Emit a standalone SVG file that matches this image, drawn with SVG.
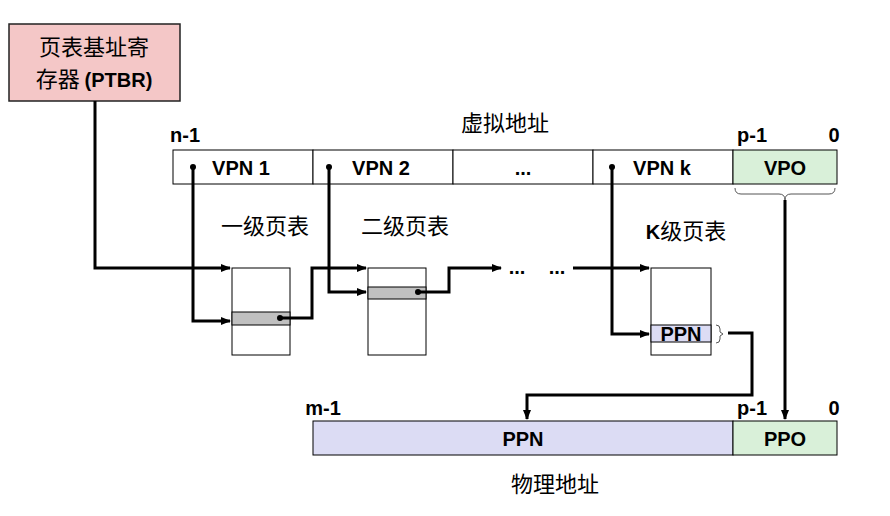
<svg xmlns="http://www.w3.org/2000/svg" width="890" height="516" viewBox="0 0 890 516">
<defs><marker id="a" markerWidth="10" markerHeight="8" refX="9" refY="4" orient="auto" markerUnits="userSpaceOnUse"><path d="M0,0L10,4L0,8z" fill="#000"/></marker></defs>
<style>
.b{font-family:"Liberation Sans",Arial,sans-serif;font-weight:bold;font-size:20px;text-anchor:middle}
.c{font-family:"Noto Sans CJK SC","Liberation Serif",serif;font-size:22px;text-anchor:middle}
.cell{stroke:#000;stroke-width:1}
.w{stroke:#000;stroke-width:3;fill:none}
</style>
<rect width="890" height="516" fill="#fff"/>
<g id="ptbr"><rect x="9" y="24" width="171" height="77" fill="#f4c7c7" stroke="#222" stroke-width="1.5"/>
<text x="94" y="55" class="c">页表基址寄</text><text x="94" y="87" class="c">存器 <tspan font-family="Liberation Sans" font-weight="bold" font-size="20">(PTBR)</tspan></text></g>
<g id="va">
<text x="505" y="131" class="c">虚拟地址</text>
<text x="185" y="142" class="b">n-1</text><text x="752" y="142" class="b">p-1</text><text x="834" y="142" class="b">0</text>
<rect x="173" y="150" width="140" height="34" fill="#fff" class="cell"/>
<rect x="313" y="150" width="140" height="34" fill="#fff" class="cell"/>
<rect x="453" y="150" width="140" height="34" fill="#fff" class="cell"/>
<rect x="593" y="150" width="140" height="34" fill="#fff" class="cell"/>
<rect x="733" y="150" width="104" height="34" fill="#d9f0d9" class="cell"/>
<text x="241" y="175" class="b">VPN 1</text><text x="381" y="175" class="b">VPN 2</text><text x="523" y="175" class="b">...</text><text x="662" y="175" class="b">VPN k</text><text x="785" y="175" class="b">VPO</text>
</g>
<g id="t1"><text x="265" y="234" class="c">一级页表</text><rect x="232" y="268" width="58" height="87" fill="#fff" class="cell"/><rect x="232" y="312" width="58" height="13" fill="#c0c0c0" class="cell"/></g>
<g id="t2"><text x="405" y="234" class="c">二级页表</text><rect x="368" y="268" width="58" height="87" fill="#fff" class="cell"/><rect x="368" y="287" width="58" height="12" fill="#c0c0c0" class="cell"/></g>
<g id="tk"><text x="686" y="239" class="c"><tspan font-family="Liberation Sans" font-weight="bold" font-size="20">K</tspan>级页表</text><rect x="651" y="268" width="60" height="87" fill="#fff" class="cell"/><rect x="651" y="325" width="60" height="17" fill="#dcdcf4" class="cell"/><text x="681" y="341" class="b">PPN</text>
<path d="M716,325 q4,0 4,4 v3 l3,2 l-3,2 v3 q0,4 -4,4" fill="none" stroke="#555"/></g>
<g id="pa">
<text x="323" y="415" class="b">m-1</text><text x="752" y="415" class="b">p-1</text><text x="834" y="415" class="b">0</text>
<rect x="313" y="421" width="420" height="34" fill="#dcdcf4" class="cell"/>
<rect x="733" y="421" width="104" height="34" fill="#d9f0d9" class="cell"/>
<text x="523" y="446" class="b">PPN</text><text x="785" y="446" class="b">PPO</text>
<text x="555" y="492" class="c">物理地址</text></g>
<g id="conn">
<path class="w" d="M95,101V268H230" marker-end="url(#a)"/>
<path class="w" d="M193,167V321H230" marker-end="url(#a)"/>
<path class="w" d="M280,318H312V268H366" marker-end="url(#a)"/>
<path class="w" d="M329,167V292H366" marker-end="url(#a)"/>
<path class="w" d="M418,292H449V268H501" marker-end="url(#a)"/>
<text x="517" y="274" class="b">...</text><text x="557" y="274" class="b">...</text>
<path class="w" d="M573,268H649" marker-end="url(#a)"/>
<path class="w" d="M612,167V334H649" marker-end="url(#a)"/>
<path class="w" d="M728,333H752V395H527V419" marker-end="url(#a)"/>
<path d="M735,188 q0,6 6,6 H779 q6,0 6,6 q0,-6 6,-6 H829 q6,0 6,-6" fill="none" stroke="#555"/>
<path class="w" d="M785,200V419" marker-end="url(#a)"/>
<circle cx="193" cy="167" r="3"/><circle cx="329" cy="167" r="3"/><circle cx="612" cy="167" r="3"/><circle cx="280" cy="318" r="3"/><circle cx="418" cy="292" r="3"/>
</g>
</svg>
